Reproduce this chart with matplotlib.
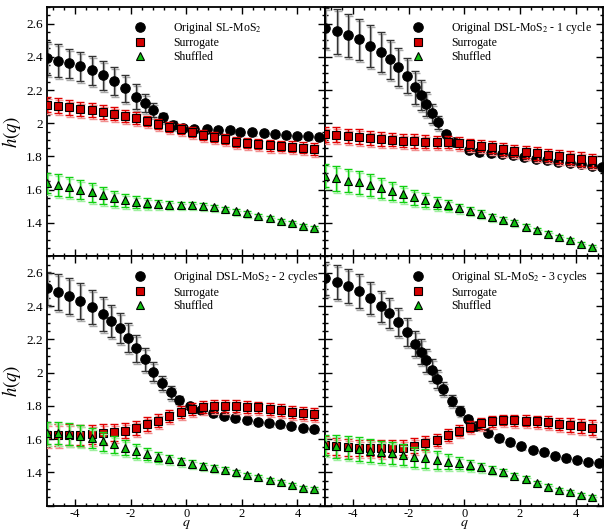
import matplotlib
matplotlib.use("Agg")
import matplotlib.pyplot as plt
from matplotlib.lines import Line2D
from matplotlib.ticker import MultipleLocator, FormatStrFormatter, FuncFormatter
import matplotlib.transforms as mtransforms

plt.rcParams['font.family'] = ['Liberation Serif', 'DejaVu Serif']
plt.rcParams['mathtext.fontset'] = 'stix'
plt.rcParams['axes.unicode_minus'] = False

# q grid of surrogate / shuffled series (same in all panels)
q_grid = [-5.0, -4.6, -4.2, -3.8, -3.4, -3.0, -2.6, -2.2, -1.8, -1.4, -1.0, -0.6, -0.2,
          0.2, 0.6, 1.0, 1.4, 1.8, 2.2, 2.6, 3.0, 3.4, 3.8, 4.2, 4.6]

# ---- panel 1: SL-MoS2
q_orig_1 = [-5.0, -4.6, -4.2, -3.8, -3.4, -3.0, -2.6, -2.2, -1.8, -1.48, -1.18, -0.85, -0.47,
            -0.11, 0.27, 0.76, 1.15, 1.57, 1.95, 2.37, 2.79, 3.18, 3.6, 3.99, 4.37, 4.77]
h_orig_1 = [2.39, 2.376, 2.36, 2.342, 2.318, 2.29, 2.256, 2.21, 2.16, 2.12, 2.08, 2.036, 1.99,
            1.974, 1.966, 1.964, 1.962, 1.958, 1.95, 1.946, 1.942, 1.936, 1.932, 1.926, 1.922, 1.92]
e_orig_1 = [0.10, 0.10, 0.087, 0.087, 0.086, 0.087, 0.085, 0.08, 0.075, 0.053, 0.04, 0.028, 0.025,
            0.015, 0.01, 0.01, 0.01, 0.008, 0.008, 0.008, 0.008, 0.008, 0.008, 0.008, 0.008, 0.008]
h_surr_1 = [2.11, 2.104, 2.096, 2.086, 2.078, 2.068, 2.058, 2.044, 2.032, 2.014, 1.996, 1.98, 1.964,
            1.946, 1.93, 1.918, 1.906, 1.89, 1.882, 1.876, 1.868, 1.862, 1.858, 1.852, 1.846]
e_surr_1 = [0.045, 0.045, 0.044, 0.043, 0.042, 0.04, 0.038, 0.036, 0.034, 0.032, 0.03, 0.03, 0.03,
            0.03, 0.03, 0.03, 0.03, 0.03, 0.03, 0.03, 0.032, 0.032, 0.033, 0.034, 0.035]
h_shuf_1 = [1.64, 1.63, 1.616, 1.60, 1.584, 1.566, 1.55, 1.536, 1.526, 1.518, 1.514, 1.51, 1.508,
            1.506, 1.502, 1.494, 1.484, 1.47, 1.458, 1.442, 1.428, 1.414, 1.398, 1.382, 1.37]
e_shuf_1 = [0.06, 0.065, 0.06, 0.057, 0.055, 0.05, 0.045, 0.04, 0.035, 0.03, 0.025, 0.022, 0.02,
            0.018, 0.016, 0.015, 0.015, 0.014, 0.014, 0.013, 0.013, 0.012, 0.012, 0.012, 0.012]

# ---- panel 2: DSL-MoS2 - 1 cycle
q_orig_2 = [-5.0, -4.58, -4.18, -3.78, -3.38, -2.99, -2.69, -2.39, -2.06, -1.76, -1.56, -1.36, -1.16,
            -0.96, -0.66, -0.36, 0.16, 0.54, 0.96, 1.36, 1.75, 2.16, 2.56, 2.97, 3.37, 3.79, 4.2, 4.59, 4.95]
h_orig_2 = [2.574, 2.554, 2.53, 2.504, 2.466, 2.426, 2.386, 2.34, 2.286, 2.216, 2.17, 2.114, 2.06,
            2.006, 1.936, 1.89, 1.84, 1.826, 1.82, 1.816, 1.806, 1.794, 1.786, 1.778, 1.768, 1.762, 1.752, 1.744, 1.736]
e_orig_2 = [0.12, 0.135, 0.13, 0.125, 0.127, 0.12, 0.117, 0.114, 0.105, 0.10, 0.09, 0.072, 0.058,
            0.038, 0.017, 0.012, 0.01, 0.01, 0.01, 0.01, 0.01, 0.01, 0.01, 0.01, 0.01, 0.01, 0.01, 0.01, 0.01]
h_surr_2 = [1.934, 1.93, 1.924, 1.92, 1.914, 1.906, 1.902, 1.896, 1.894, 1.89, 1.888, 1.886, 1.882,
            1.874, 1.866, 1.858, 1.846, 1.836, 1.826, 1.818, 1.808, 1.80, 1.792, 1.784, 1.776]
e_surr_2 = [0.045, 0.045, 0.044, 0.043, 0.042, 0.041, 0.04, 0.04, 0.04, 0.038, 0.036, 0.035, 0.034,
            0.034, 0.034, 0.035, 0.035, 0.036, 0.036, 0.037, 0.038, 0.038, 0.039, 0.04, 0.04]
h_shuf_2 = [1.684, 1.67, 1.654, 1.644, 1.628, 1.61, 1.592, 1.574, 1.556, 1.538, 1.52, 1.506, 1.49,
            1.474, 1.456, 1.438, 1.42, 1.404, 1.378, 1.358, 1.336, 1.316, 1.296, 1.274, 1.258]
e_shuf_2 = [0.07, 0.075, 0.07, 0.068, 0.065, 0.06, 0.055, 0.05, 0.045, 0.04, 0.035, 0.03, 0.025,
            0.022, 0.02, 0.018, 0.016, 0.015, 0.014, 0.013, 0.013, 0.012, 0.012, 0.012, 0.012]

# ---- panel 3: DSL-MoS2 - 2 cycles
q_orig_3 = [-5.0, -4.6, -4.2, -3.8, -3.4, -3.0, -2.69, -2.39, -2.09, -1.79, -1.49, -1.19, -0.86,
            -0.56, -0.26, 0.13, 0.55, 0.96, 1.35, 1.77, 2.17, 2.57, 2.97, 3.38, 3.78, 4.2, 4.6]
h_orig_3 = [2.506, 2.486, 2.46, 2.43, 2.396, 2.354, 2.31, 2.266, 2.21, 2.146, 2.08, 2.006, 1.936,
            1.88, 1.836, 1.80, 1.776, 1.756, 1.74, 1.724, 1.714, 1.704, 1.696, 1.69, 1.68, 1.666, 1.658]
e_orig_3 = [0.10, 0.109, 0.108, 0.106, 0.103, 0.102, 0.098, 0.09, 0.086, 0.08, 0.07, 0.055, 0.043,
            0.04, 0.023, 0.012, 0.01, 0.01, 0.01, 0.01, 0.01, 0.01, 0.01, 0.01, 0.01, 0.01, 0.01]
h_surr_3 = [1.626, 1.624, 1.626, 1.626, 1.628, 1.634, 1.64, 1.65, 1.666, 1.69, 1.71, 1.74, 1.764,
            1.78, 1.792, 1.80, 1.80, 1.798, 1.794, 1.79, 1.78, 1.774, 1.764, 1.756, 1.75]
e_surr_3 = [0.065, 0.065, 0.063, 0.06, 0.058, 0.055, 0.05, 0.046, 0.042, 0.04, 0.038, 0.036, 0.035,
            0.035, 0.035, 0.035, 0.035, 0.035, 0.035, 0.035, 0.035, 0.035, 0.035, 0.035, 0.035]
h_shuf_3 = [1.636, 1.638, 1.63, 1.62, 1.604, 1.586, 1.568, 1.548, 1.528, 1.51, 1.494, 1.48, 1.466,
            1.452, 1.438, 1.426, 1.414, 1.40, 1.384, 1.37, 1.354, 1.34, 1.324, 1.308, 1.30]
e_shuf_3 = [0.065, 0.065, 0.065, 0.062, 0.06, 0.056, 0.052, 0.046, 0.04, 0.035, 0.03, 0.025, 0.022,
            0.02, 0.018, 0.016, 0.015, 0.014, 0.014, 0.013, 0.013, 0.012, 0.012, 0.012, 0.012]

# ---- panel 4: SL-MoS2 - 3 cycles
q_orig_4 = [-5.0, -4.58, -4.19, -3.78, -3.39, -2.99, -2.71, -2.40, -2.07, -1.78, -1.57, -1.38, -1.18,
            -0.98, -0.76, -0.46, -0.16, 0.13, 0.43, 0.85, 1.24, 1.65, 2.04, 2.46, 2.86, 3.26, 3.66, 4.05, 4.46, 4.85]
h_orig_4 = [2.566, 2.546, 2.52, 2.49, 2.45, 2.40, 2.356, 2.304, 2.244, 2.174, 2.124, 2.074, 2.014,
            1.96, 1.904, 1.83, 1.77, 1.72, 1.68, 1.636, 1.604, 1.58, 1.556, 1.536, 1.52, 1.50, 1.486, 1.476, 1.464, 1.454]
e_orig_4 = [0.10, 0.103, 0.103, 0.10, 0.095, 0.093, 0.09, 0.082, 0.082, 0.075, 0.075, 0.07, 0.065,
            0.055, 0.042, 0.032, 0.028, 0.02, 0.012, 0.01, 0.01, 0.01, 0.01, 0.01, 0.01, 0.01, 0.01, 0.01, 0.01, 0.01]
h_surr_4 = [1.566, 1.556, 1.55, 1.546, 1.546, 1.544, 1.546, 1.548, 1.56, 1.576, 1.594, 1.626, 1.65,
            1.674, 1.694, 1.706, 1.714, 1.714, 1.71, 1.706, 1.70, 1.69, 1.684, 1.676, 1.668]
e_surr_4 = [0.05, 0.05, 0.05, 0.05, 0.05, 0.05, 0.048, 0.046, 0.044, 0.04, 0.038, 0.035, 0.033,
            0.032, 0.032, 0.032, 0.032, 0.033, 0.034, 0.035, 0.036, 0.038, 0.04, 0.042, 0.045]
h_shuf_4 = [1.566, 1.556, 1.55, 1.54, 1.53, 1.524, 1.516, 1.506, 1.494, 1.484, 1.474, 1.464, 1.456,
            1.446, 1.43, 1.416, 1.40, 1.38, 1.36, 1.336, 1.314, 1.294, 1.28, 1.264, 1.25]
e_shuf_4 = [0.06, 0.07, 0.07, 0.07, 0.068, 0.066, 0.064, 0.062, 0.06, 0.058, 0.052, 0.045, 0.038,
            0.03, 0.025, 0.02, 0.018, 0.016, 0.015, 0.014, 0.013, 0.012, 0.012, 0.012, 0.012]

labels_orig = ["Original SL-MoS$_2$", "Original DSL-MoS$_2$ - 1 cycle",
               "Original DSL-MoS$_2$ - 2 cycles", "Original SL-MoS$_2$ - 3 cycles"]

panels = [
    (q_orig_1, h_orig_1, e_orig_1, h_surr_1, e_surr_1, h_shuf_1, e_shuf_1),
    (q_orig_2, h_orig_2, e_orig_2, h_surr_2, e_surr_2, h_shuf_2, e_shuf_2),
    (q_orig_3, h_orig_3, e_orig_3, h_surr_3, e_surr_3, h_shuf_3, e_shuf_3),
    (q_orig_4, h_orig_4, e_orig_4, h_surr_4, e_surr_4, h_shuf_4, e_shuf_4),
]

fig = plt.figure(figsize=(6.04, 5.31), dpi=100)
L, W = 0.078, 0.4605
B, H = 0.048, 0.4695
rects = [[L, B + H, W, H], [L + W, B + H, W, H], [L, B, W, H], [L + W, B, W, H]]

styles = [
    # marker, face, bar color, shadow color, size
    ('o', 'black', '#333333', '#aaaaaa', 6.8),
    ('s', '#d40000', '#e00000', '#f29090', 5.2),
    ('^', '#10c010', '#10d010', '#a0f0a0', 6.3),
]

def ylab(v, pos):
    # the bottom tick (1.2) carries no label in the figure
    if abs(v - 1.2) < 1e-6:
        return ''
    return '%g' % v

for i, (rect, data) in enumerate(zip(rects, panels)):
    ax = fig.add_axes(rect)
    qo, ho, eo, hs, es, hf, ef = data
    series = [(qo, ho, eo), (q_grid, hs, es), (q_grid, hf, ef)]
    shadow = mtransforms.offset_copy(ax.transData, fig=fig, x=1, y=-2, units='dots')
    for k, ((x, y, e), (mk, fc, bc, sc, ms)) in enumerate(zip(series, styles)):
        ax.errorbar(x, y, yerr=e, fmt='none', ecolor=sc, elinewidth=1.0, capsize=3.2,
                    capthick=1.0, transform=shadow, zorder=2 + k * 2)
        ax.errorbar(x, y, yerr=e, fmt='none', ecolor=bc, elinewidth=1.0, capsize=3.2,
                    capthick=1.0, zorder=2.5 + k * 2)
        ax.plot(x, y, linestyle='none', marker=mk, markersize=ms, markerfacecolor=fc,
                markeredgecolor='black', markeredgewidth=0.8, zorder=3 + k * 2)

    ax.set_xlim(-5, 5)
    ax.set_ylim(1.2, 2.7)
    ax.xaxis.set_major_locator(MultipleLocator(2))
    ax.xaxis.set_minor_locator(MultipleLocator(0.4))
    ax.yaxis.set_major_locator(MultipleLocator(0.2))
    ax.yaxis.set_minor_locator(MultipleLocator(0.05))
    ax.yaxis.set_major_formatter(FuncFormatter(ylab))
    ax.xaxis.set_major_formatter(FormatStrFormatter('%g'))
    ax.tick_params(which='both', direction='in', top=True, right=True, width=1.0)
    ax.tick_params(which='major', length=5, labelsize=9.5, pad=3)
    ax.tick_params(axis='x', which='major', labelsize=9, pad=1.5)
    ax.tick_params(which='minor', length=2.5)
    for sp in ax.spines.values():
        sp.set_linewidth(1.3)

    if i in (0, 2):
        ax.set_ylabel('$h(q)$', fontsize=13.5)
        ax.yaxis.set_label_coords(-0.085, 0.5)
    else:
        ax.tick_params(labelleft=False)
    if i in (2, 3):
        ax.set_xlabel('$q$', fontsize=10)
        ax.xaxis.set_label_coords(0.5, -0.052)
    else:
        ax.tick_params(labelbottom=False)

    handles = [Line2D([], [], linestyle='none', marker=st[0], markersize=st[4],
                      markerfacecolor=st[1], markeredgecolor='black', markeredgewidth=0.8)
               for st in styles]
    ax.legend(handles, [labels_orig[i], "Surrogate", "Shuffled"], loc='upper left',
              bbox_to_anchor=(0.312, 0.948), frameon=False, fontsize=8.5, handlelength=1.0,
              handletextpad=2.3, labelspacing=0.12, borderpad=0, borderaxespad=0)

fig.savefig('out.png', dpi=100)
